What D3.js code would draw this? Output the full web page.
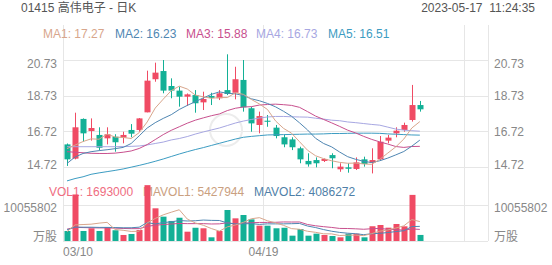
<!DOCTYPE html>
<html>
<head>
<meta charset="utf-8">
<script src="https://cdn.jsdelivr.net/npm/d3@7"></script>
<style>
  body { margin: 0; background: #fff; }
  svg { display: block; }
  text { font-family: "Liberation Sans", Arial, "Noto Sans CJK SC", sans-serif; font-size: 12px; }
</style>
</head>
<body>
<svg id="kchart" width="552" height="265"></svg>
<script>
// daily K data, 01415 (HK trading days)
var dates = ["03/10","03/13","03/14","03/15","03/16","03/17","03/20","03/21","03/22","03/23",
             "03/24","03/27","03/28","03/29","03/30","03/31","04/03","04/04","04/06","04/11",
             "04/12","04/13","04/14","04/17","04/18","04/19","04/20","04/21","04/24","04/25",
             "04/26","04/27","04/28","05/02","05/03","05/04","05/05","05/08","05/09","05/10",
             "05/11","05/12","05/15","05/16","05/17"];

var openPx  = [15.99,15.19,17.42,16.74,16.52,16.33,16.42,16.37,16.80,16.80,17.79,19.65,20.11,19.27,19.01,18.67,18.76,18.35,18.71,18.58,
               19.04,18.89,19.61,18.02,17.08,17.32,16.93,16.39,16.27,15.77,15.06,15.11,15.06,15.39,14.59,14.70,14.61,15.15,14.96,15.15,
               16.20,16.61,16.80,17.36,18.20];
var closePx = [15.15,16.95,16.61,16.91,15.80,16.56,16.11,16.52,16.59,17.45,19.57,20.02,19.01,19.01,18.67,18.80,18.30,18.54,18.60,18.86,
               18.82,19.65,18.07,17.17,17.58,17.26,16.46,15.99,15.83,15.15,14.87,14.93,15.17,15.21,14.74,14.62,14.98,14.89,15.11,16.14,
               16.37,16.76,17.08,18.20,17.96];
var highPx  = [16.04,17.77,17.45,17.45,16.95,16.95,16.56,16.70,17.13,17.47,20.13,20.58,20.73,19.70,19.23,18.85,19.04,18.95,18.89,19.04,
               21.05,20.35,20.73,18.11,17.83,17.64,17.08,16.52,16.39,15.86,15.49,15.26,15.20,15.49,14.93,14.93,15.26,15.30,15.77,16.46,
               16.52,16.95,17.21,19.33,18.43];
var lowPx   = [14.78,15.15,16.14,16.20,15.67,15.99,15.58,16.05,16.39,16.70,17.79,19.51,18.86,18.58,18.11,18.15,17.77,17.92,18.20,18.48,
               18.76,18.52,17.83,16.70,16.61,16.98,16.33,15.83,15.67,14.93,14.74,14.70,15.00,14.65,14.45,14.40,14.55,14.74,14.36,15.11,
               16.05,16.39,16.70,17.27,17.83];
var volume  = [2790000,13000000,2800000,3550000,2800000,3900000,3000000,1680000,1960000,3070000,
               15600000,9130000,6800000,5600000,6500000,2600000,3700000,3550000,1030000,2800000,
               8660000,6330000,7260000,6050000,4280000,4280000,3550000,3700000,1490000,3350000,
               1490000,2050000,1680000,1400000,1030000,2050000,2050000,1030000,4120000,4470000,
               3720000,4750000,4100000,12880000,1693000];

var ma1 = [15.75,15.95,16.15,16.30,16.28,16.57,16.40,16.38,16.32,16.65,17.25,18.03,18.53,19.01,19.26,19.10,18.76,18.66,18.58,18.62,
           18.62,18.89,18.80,18.51,18.26,17.95,17.31,16.89,16.62,16.14,15.66,15.35,15.19,15.07,14.98,14.93,14.94,14.89,14.87,15.15,
           15.50,15.85,16.29,16.91,17.27];
var ma2 = [14.92,15.28,15.48,15.58,15.64,15.69,15.75,15.82,16.04,16.47,16.91,17.21,17.45,17.66,17.95,18.18,18.39,18.60,18.80,18.94,
           18.86,18.83,18.73,18.55,18.44,18.29,18.10,17.85,17.57,17.20,16.80,16.33,16.04,15.85,15.56,15.30,15.15,15.04,14.97,15.07,
           15.22,15.40,15.59,15.89,16.23];
var ma3 = [15.58,15.55,15.52,15.49,15.48,15.48,15.50,15.55,15.62,15.76,15.98,16.26,16.54,16.78,16.98,17.18,17.35,17.48,17.60,17.70,
           17.89,18.02,18.09,18.11,18.20,18.23,18.25,18.22,18.18,18.07,17.83,17.58,17.39,17.20,17.00,16.79,16.63,16.44,16.27,16.13,
           16.01,15.87,15.82,15.87,15.88];
var ma4 = [15.86,15.86,15.86,15.86,15.86,15.86,15.86,15.87,15.88,15.90,15.96,16.04,16.12,16.24,16.32,16.43,16.57,16.69,16.80,16.91,
           17.05,17.19,17.30,17.39,17.47,17.53,17.56,17.56,17.54,17.53,17.52,17.46,17.41,17.35,17.32,17.25,17.21,17.16,17.11,17.07,
           16.96,16.85,16.79,16.76,16.73];
var ma5 = [13.94,14.07,14.17,14.31,14.39,14.46,14.53,14.61,14.71,14.81,14.92,15.04,15.17,15.31,15.45,15.58,15.70,15.81,15.93,16.05,
           16.17,16.29,16.39,16.44,16.48,16.52,16.53,16.54,16.55,16.56,16.57,16.57,16.58,16.60,16.60,16.61,16.62,16.62,16.62,16.61,
           16.58,16.56,16.54,16.52,16.51];

var mavol1 = [2600000,4500000,4600000,4700000,4990000,5210000,3210000,2990000,2670000,2720000,
              5060000,6290000,7310000,8040000,8730000,6130000,5040000,4390000,3480000,2740000,
              3950000,4470000,5220000,6220000,6520000,5640000,5080000,4370000,3460000,3270000,
              2720000,2420000,2010000,1990000,1530000,1640000,1640000,1510000,2060000,2740000,
              3080000,3620000,4230000,5980000,5427944];
var mavol2 = [3100000,3900000,3850000,3850000,3800000,3800000,3750000,3700000,3700000,3860000,
              5140000,4750000,5150000,5350000,5720000,5590000,5660000,5850000,5760000,5730000,
              5040000,4760000,4800000,4850000,4630000,4790000,4780000,4790000,4840000,4900000,
              4180000,3750000,3190000,2730000,2400000,2180000,2030000,1760000,2030000,2140000,
              2360000,2630000,2870000,4020000,4086272];
var mavol3 = [3300000,3800000,3750000,3700000,3650000,3650000,3600000,3500000,3450000,3450000,
              4100000,4400000,4600000,4750000,4900000,4850000,4850000,4850000,4750000,4790000,
              5090000,4750000,4980000,5100000,5180000,5190000,5220000,5320000,5300000,5310000,
              4610000,4250000,4000000,3790000,3510000,3490000,3400000,3280000,3430000,3520000,
              3270000,3190000,3030000,3370000,3240000];

var priceTicks = [20.73, 18.73, 16.72, 14.72];
var volTicks = [10055802, 0];
var dateTicks = [0, 25];
var gridSlots = [0, 25, 50];

var upColor = "#f04b64", downColor = "#13b096";
var maColors = ["#d8a68c", "#4f86b2", "#c8508e", "#a7a7e2", "#3c9cc2"];

function main() {
  var svg = d3.select("#kchart");
  var n = dates.length;

  var x = d3.scaleBand().domain(d3.range(n + 8)).range([63, 488])
            .paddingInner(0.25).paddingOuter(0.125);
  var bw = x.bandwidth();
  var cx = function(i) { return x(i) + bw / 2; };
  var left = 63, right = 488;

  var y = d3.scaleLinear().domain([14.72, 20.73]).range([167, 60]);
  var yv = d3.scaleLinear().domain([0, 10055802]).range([241, 205]);

  // grid
  var grid = svg.append("g").attr("stroke", "#e6e6e6").attr("stroke-width", 1);
  grid.selectAll(".hp").data(priceTicks).enter().append("line")
      .attr("x1", left).attr("x2", right)
      .attr("y1", function(d) { return Math.round(y(d)) + 0.5; })
      .attr("y2", function(d) { return Math.round(y(d)) + 0.5; });
  grid.selectAll(".hv").data(volTicks).enter().append("line")
      .attr("x1", left).attr("x2", right)
      .attr("y1", function(d) { return Math.round(yv(d)) + 0.5; })
      .attr("y2", function(d) { return Math.round(yv(d)) + 0.5; });
  grid.selectAll(".vg").data(gridSlots).enter().append("line")
      .attr("x1", function(d) { return Math.round(x(d)) - 0.5; })
      .attr("x2", function(d) { return Math.round(x(d)) - 0.5; })
      .attr("y1", 25).attr("y2", 241);
  grid.append("line").attr("x1", right + 0.5).attr("x2", right + 0.5).attr("y1", 25).attr("y2", 241);

  // watermark
  svg.append("circle").attr("cx", 226).attr("cy", 130).attr("r", 16)
     .attr("fill", "none").attr("stroke", "#ececec").attr("stroke-width", 2);

  // price panel
  svg.append("clipPath").attr("id", "pclip").append("rect")
     .attr("x", left).attr("y", 25).attr("width", right - left).attr("height", 160);
  var pg = svg.append("g").attr("clip-path", "url(#pclip)");

  var idx = d3.range(n);
  var col = function(i) { return closePx[i] >= openPx[i] ? upColor : downColor; };

  pg.selectAll(".wick").data(idx).enter().append("line")
    .attr("x1", function(i) { return Math.round(cx(i)) + 0.5; })
    .attr("x2", function(i) { return Math.round(cx(i)) + 0.5; })
    .attr("y1", function(i) { return y(highPx[i]); })
    .attr("y2", function(i) { return y(lowPx[i]); })
    .attr("stroke", col).attr("stroke-width", 1);

  pg.selectAll(".body").data(idx).enter().append("rect")
    .attr("x", function(i) { return Math.round(cx(i)) + 0.5 - 3; })
    .attr("width", 6)
    .attr("y", function(i) { return y(Math.max(openPx[i], closePx[i])); })
    .attr("height", function(i) { return Math.max(1, Math.abs(y(openPx[i]) - y(closePx[i]))); })
    .attr("fill", col);

  var line = d3.line().x(function(d, i) { return cx(i); }).y(function(d) { return y(d); });
  [ma5, ma4, ma3, ma2, ma1].forEach(function(arr, k) {
    pg.append("path").datum(arr).attr("d", line)
      .attr("fill", "none").attr("stroke", maColors[4 - k]).attr("stroke-width", 1);
  });

  // volume legend sits under the bars
  var volLegend = [
    ["VOL1: " + volume[n - 1], "#ef6d7f", 49],
    ["MAVOL1: " + mavol1[n - 1], "#caa080", 143],
    ["MAVOL2: " + mavol2[n - 1], "#4f7fa8", 254]
  ];
  svg.selectAll(".vlg").data(volLegend).enter().append("text")
     .attr("x", function(d) { return d[2]; }).attr("y", 196)
     .attr("fill", function(d) { return d[1]; })
     .text(function(d) { return d[0]; });

  // volume panel
  svg.selectAll(".vol").data(idx).enter().append("rect")
     .attr("x", function(i) { return Math.round(cx(i)) + 0.5 - 3; })
     .attr("width", 6)
     .attr("y", function(i) { return yv(volume[i]); })
     .attr("height", function(i) { return yv(0) - yv(volume[i]); })
     .attr("fill", col);

  var vline = d3.line().x(function(d, i) { return cx(i); }).y(function(d) { return yv(d); });
  [[mavol3, maColors[2]], [mavol2, maColors[1]], [mavol1, maColors[0]]].forEach(function(p) {
    svg.append("path").datum(p[0]).attr("d", vline)
       .attr("fill", "none").attr("stroke", p[1]).attr("stroke-width", 1);
  });

  // axes
  var styleAxis = function(g) {
    g.select(".domain").remove();
    g.selectAll("text").attr("fill", "#888").style("font-size", "12px")
     .style("font-family", "\"Liberation Sans\", Arial, \"Noto Sans CJK SC\", sans-serif");
  };
  var fixPriceDy = function(g) {
    g.selectAll("text").attr("dy", function(d) {
      return d === priceTicks[0] ? "0.66em" : (d === priceTicks[priceTicks.length - 1] ? "0.15em" : "0.32em");
    });
  };
  var fixVolDy = function(g) {
    g.selectAll("text").attr("dy", function(d) { return d ? "0.57em" : "-0.08em"; });
  };
  var volFmt = function(d) { return d ? String(d) : "万股"; };

  svg.append("g").attr("transform", "translate(57,0)")
     .call(d3.axisLeft(y).tickValues(priceTicks).tickSize(0).tickPadding(0).tickFormat(d3.format(".2f")))
     .call(styleAxis).call(fixPriceDy);
  svg.append("g").attr("transform", "translate(494,0)")
     .call(d3.axisRight(y).tickValues(priceTicks).tickSize(0).tickPadding(0).tickFormat(d3.format(".2f")))
     .call(styleAxis).call(fixPriceDy);
  svg.append("g").attr("transform", "translate(57,0)")
     .call(d3.axisLeft(yv).tickValues(volTicks).tickSize(0).tickPadding(0).tickFormat(volFmt))
     .call(styleAxis).call(fixVolDy);
  svg.append("g").attr("transform", "translate(494,0)")
     .call(d3.axisRight(yv).tickValues(volTicks).tickSize(0).tickPadding(0).tickFormat(volFmt))
     .call(styleAxis).call(fixVolDy);

  var xa = svg.append("g").attr("transform", "translate(0,247)")
     .call(d3.axisBottom(x).tickValues(dateTicks).tickSize(0).tickPadding(0)
     .tickFormat(function(i) { return dates[i]; }))
     .call(styleAxis);
  xa.selectAll("text").attr("x", -bw / 2 - 1)
    .attr("text-anchor", function(i) { return i === 0 ? "start" : "middle"; });

  // header
  svg.append("text").attr("x", 21).attr("y", 12).attr("fill", "#555")
     .text("01415 高伟电子 - 日K");
  svg.append("text").attr("x", 535).attr("y", 12).attr("fill", "#555")
     .attr("text-anchor", "end").style("white-space", "pre")
     .text("2023-05-17  11:24:35");

  var maVals = [ma1, ma2, ma3, ma4, ma5];
  var maX = [43, 115, 186, 256, 328];
  svg.selectAll(".malg").data(maVals).enter().append("text")
     .attr("x", function(d, k) { return maX[k]; }).attr("y", 37.5)
     .attr("fill", function(d, k) { return maColors[k]; })
     .text(function(d, k) { return "MA" + (k + 1) + ": " + d[d.length - 1].toFixed(2); });
}
main();
</script>
</body>
</html>
